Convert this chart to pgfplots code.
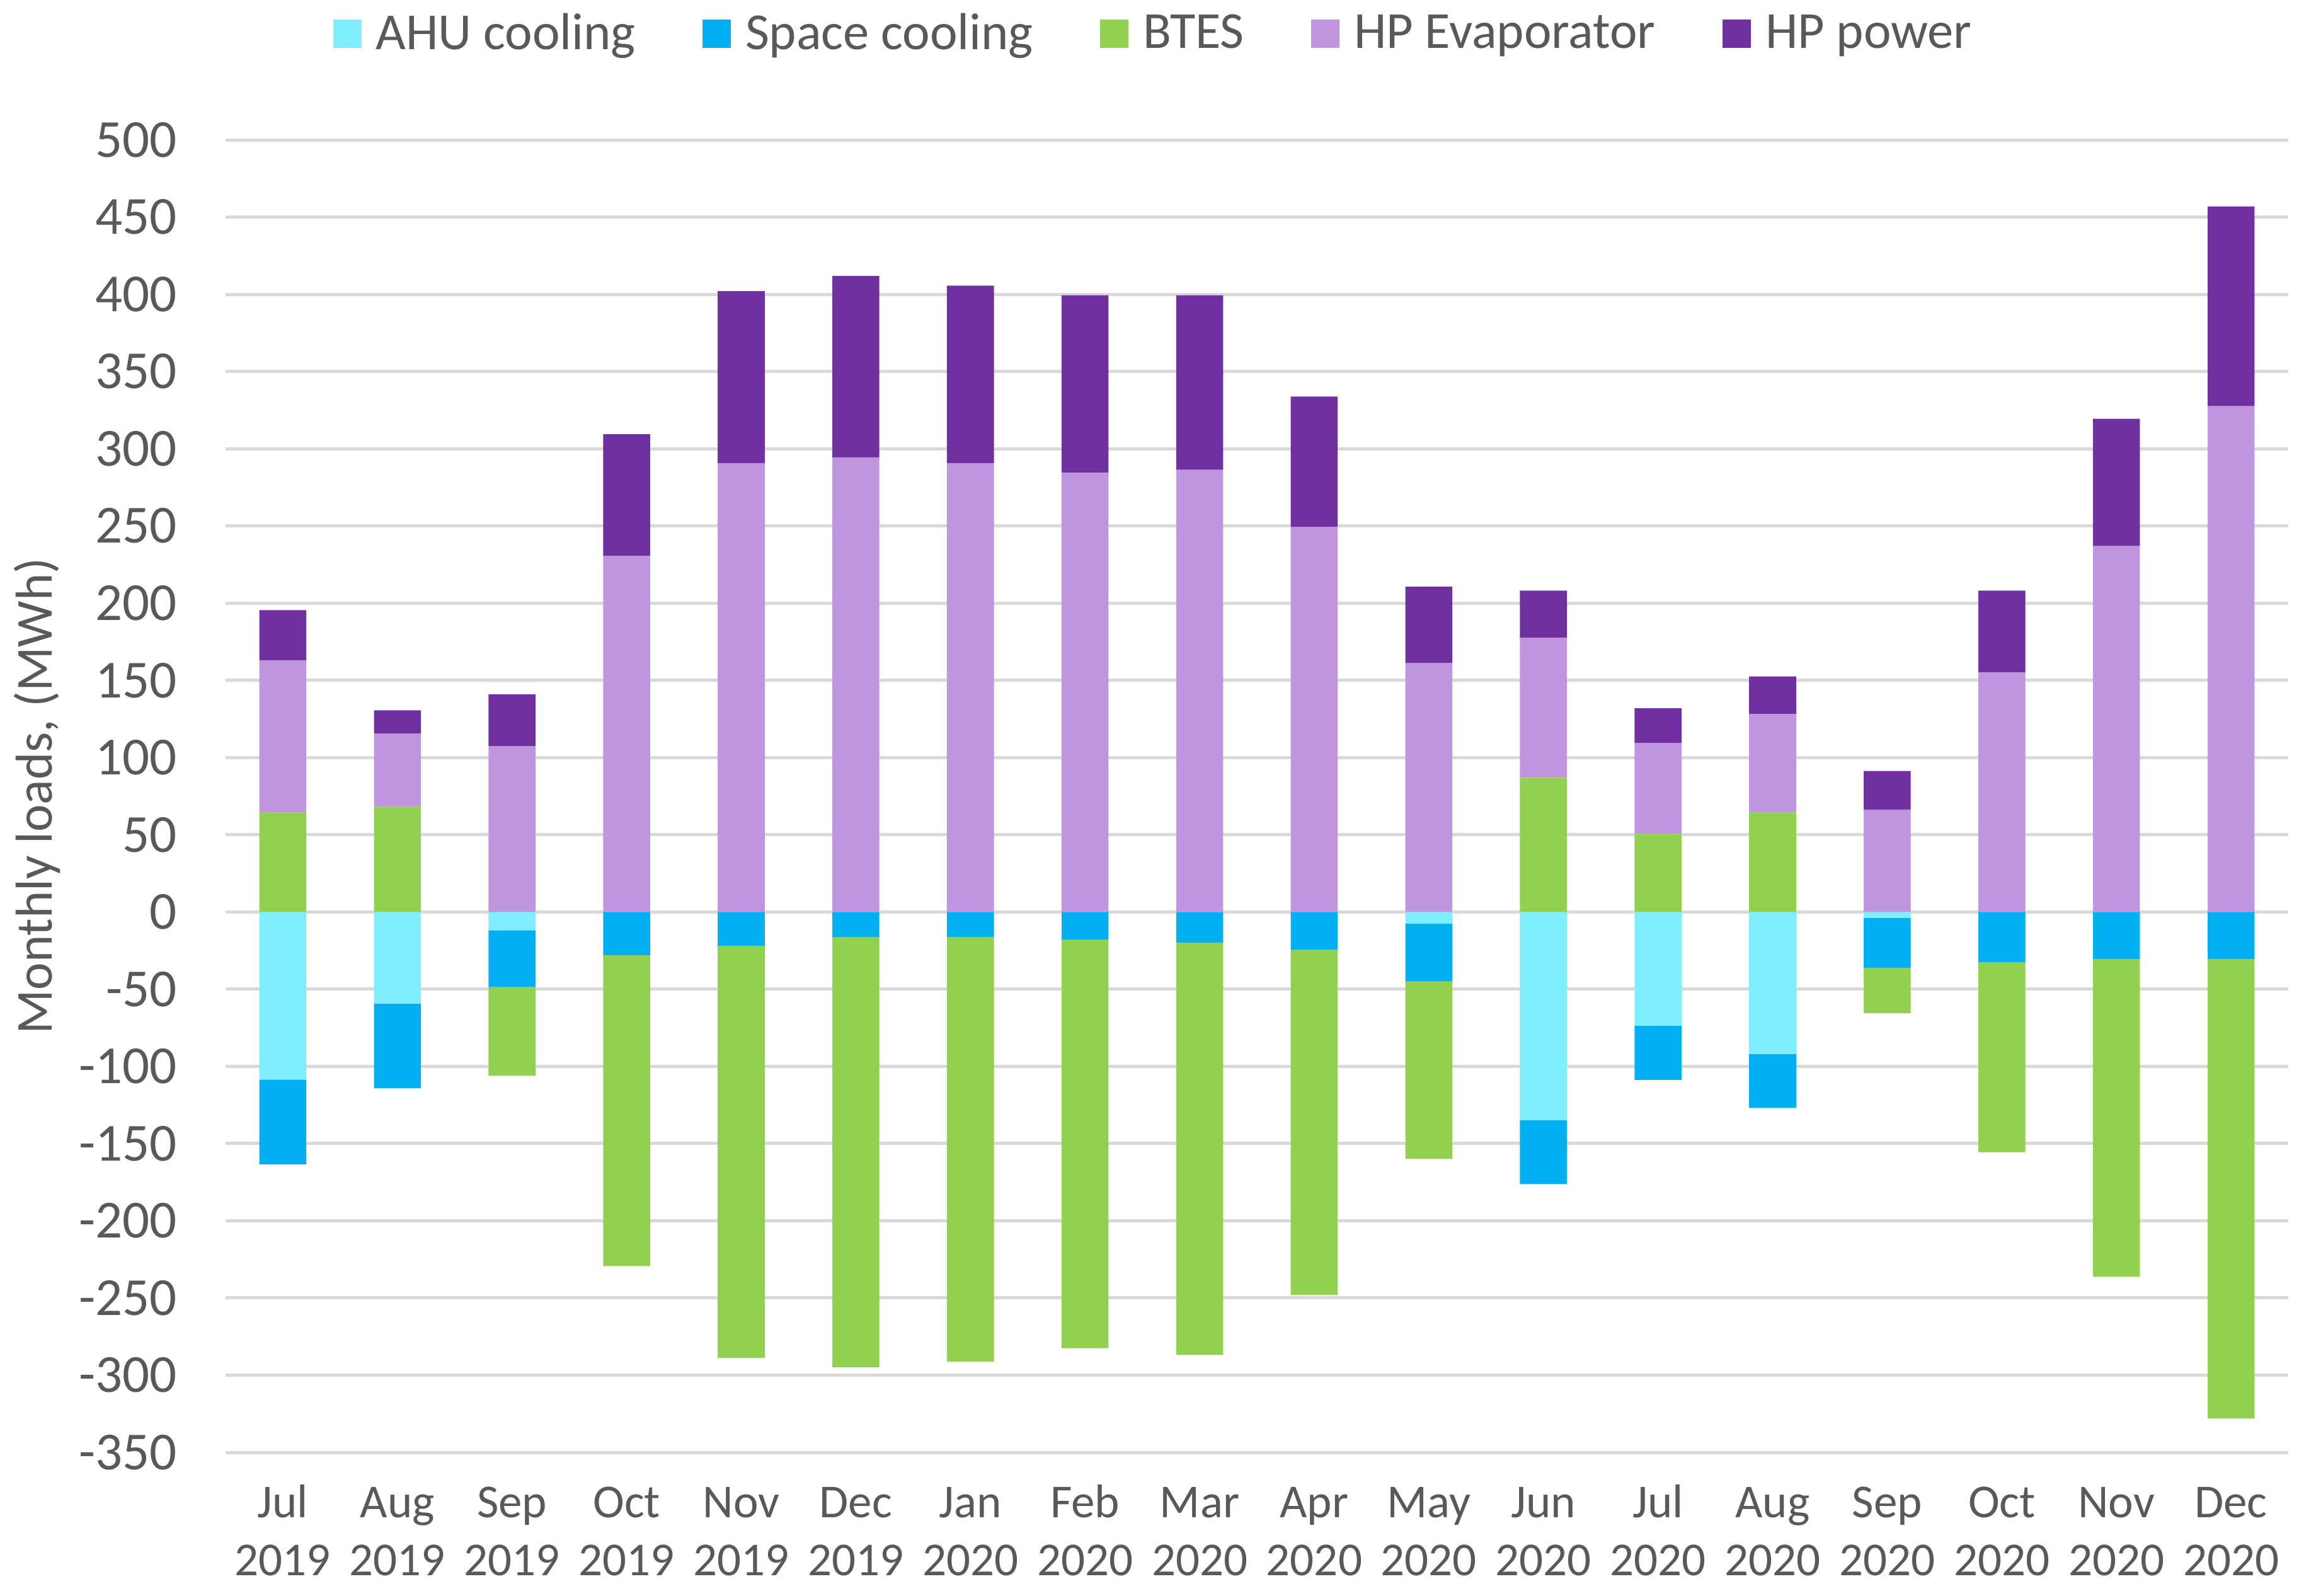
\documentclass[border=0pt]{standalone}
\usepackage{fontspec}
\setmainfont{Carlito}
\usepackage{pgfplots}
\usepackage{pgfplotstable}
\pgfplotsset{compat=1.18}
\definecolor{ahu}{HTML}{7FEFFF}
\definecolor{sc}{HTML}{00B0F0}
\definecolor{btes}{HTML}{92D050}
\definecolor{evap}{HTML}{BF95DF}
\definecolor{hpp}{HTML}{7030A0}
\definecolor{txt}{HTML}{595959}
\definecolor{grd}{HTML}{D9D9D9}

% segment values (MWh): negative stack AHU, SC, BTES(neg); positive stack BTES(pos), HP evaporator, HP power
\pgfplotstableread{
x  ahu     sc     btesn   btesp  evap   hpp
0  -108.6  -54.9    0.0   64.3   98.7   32.4
1  -59.3   -54.9    0.0   68.0   47.5   15.0
2  -11.9   -36.8  -57.4    0.0  107.4   33.6
3    0.0   -28.0 -201.4    0.0  230.6   78.8
4    0.0   -21.9 -266.9    0.0  290.6  111.4
5    0.0   -16.3 -278.7    0.0  294.4  117.5
6    0.0   -16.3 -275.0    0.0  290.6  115.0
7    0.0   -18.1 -264.4    0.0  284.4  115.0
8    0.0   -20.0 -266.9    0.0  286.3  113.1
9    0.0   -24.4 -223.7    0.0  249.4   84.4
10  -7.5   -37.5 -115.0    0.0  161.3   49.3
11 -135.0  -41.3    0.0   86.9   90.6   30.6
12  -73.8  -35.0    0.0   50.6   58.8   22.5
13  -91.9  -35.0    0.0   64.4   63.7   24.4
14   -3.8  -32.5  -29.3    0.0   66.3   25.0
15    0.0  -32.5 -123.1    0.0  155.0   53.1
16    0.0  -30.6 -205.7    0.0  236.9   82.5
17    0.0  -30.6 -297.5    0.0  327.5  129.4
}\loads

\newcommand{\xl}[2]{\strut #1\\#2}

\pgfplotsset{
  base/.style={
    scale only axis, width=654.8pt, height=416.6pt,
    xmin=-0.5, xmax=17.5, ymin=-350, ymax=500,
    ybar stacked, bar width=0.41,
    axis line style={draw=none}, major tick length=0pt,
    at={(0pt,0pt)}, anchor=south west,
    every axis plot post/.append style={
      legend image code/.code={\path[##1] (0pt,-4.5pt) rectangle (9pt,4.5pt);}},
  },
  sqleg/.style={legend image code/.code={\path[#1] (0pt,-4.5pt) rectangle (9pt,4.5pt);}},
}

\begin{document}
\begin{tikzpicture}
\useasboundingbox (-71.6pt,-45.4pt) rectangle (662pt,461pt);
\begin{axis}[base,
  ytick={-350,-300,...,500},
  ymajorgrids, grid style={grd, line width=1pt},
  xtick={0,...,17},
  xticklabels={{\xl{Jul}{2019}},{\xl{Aug}{2019}},{\xl{Sep}{2019}},{\xl{Oct}{2019}},{\xl{Nov}{2019}},{\xl{Dec}{2019}},{\xl{Jan}{2020}},{\xl{Feb}{2020}},{\xl{Mar}{2020}},{\xl{Apr}{2020}},{\xl{May}{2020}},{\xl{Jun}{2020}},{\xl{Jul}{2020}},{\xl{Aug}{2020}},{\xl{Sep}{2020}},{\xl{Oct}{2020}},{\xl{Nov}{2020}},{\xl{Dec}{2020}}},
  xticklabel style={font=\fontsize{15}{18.4}\selectfont, text=txt, align=center, anchor=north, inner sep=0pt, yshift=-7.7pt},
  yticklabel style={font=\fontsize{17}{20}\selectfont, text=txt, anchor=east, inner sep=0pt, xshift=-15.3pt},
  /pgf/number format/assume math mode=true,
  ylabel={Monthly loads, (MWh)},
  every axis y label/.style={at={(rel axis cs:-0.084,0.5)}, rotate=90, anchor=base, font=\fontsize{16.5}{20}\selectfont, text=txt},
  legend columns=5,
  legend style={at={(rel axis cs:0.4508,1.0807)}, anchor=center, draw=none, fill=none,
    font=\fontsize{16.5}{20}\selectfont, text=txt,
    nodes={inner sep=2pt},
    /tikz/every odd column/.append style={column sep=2.6pt},
    /tikz/every even column/.append style={column sep=19.3pt}},
]
\addplot[fill=ahu, draw=none] table[x=x,y=ahu]{\loads};
\addplot[fill=sc, draw=none] table[x=x,y=sc]{\loads};
\addplot[fill=btes, draw=none] table[x=x,y=btesn]{\loads};
\addlegendimage{sqleg, fill=evap, draw=none}
\addlegendimage{sqleg, fill=hpp, draw=none}
\legend{AHU cooling, Space cooling, BTES, HP Evaporator, HP power}
\end{axis}
\begin{axis}[base, hide axis]
\addplot[fill=btes, draw=none] table[x=x,y=btesp]{\loads};
\addplot[fill=evap, draw=none] table[x=x,y=evap]{\loads};
\addplot[fill=hpp, draw=none] table[x=x,y=hpp]{\loads};
\end{axis}
\end{tikzpicture}
\end{document}
